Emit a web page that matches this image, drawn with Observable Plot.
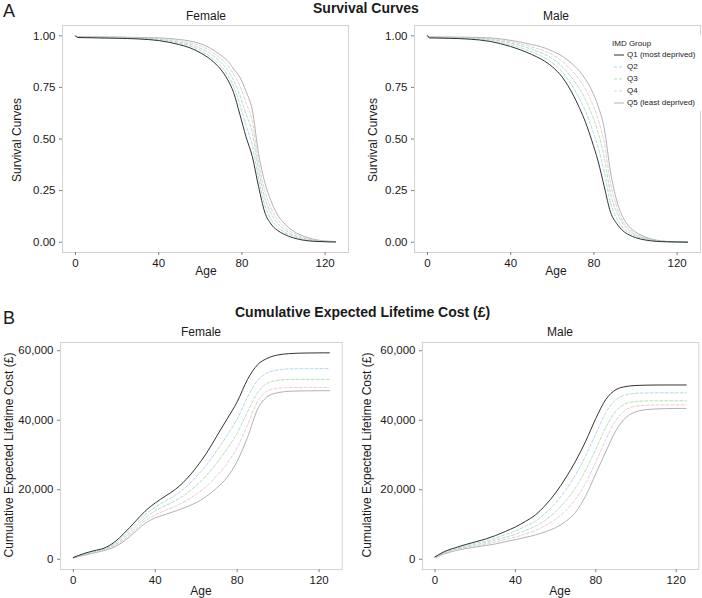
<!DOCTYPE html>
<html><head><meta charset="utf-8">
<script src="https://cdn.jsdelivr.net/npm/d3@7"></script>
<script src="https://cdn.jsdelivr.net/npm/@observablehq/plot@0.6"></script>
<style>
body{margin:0;background:#fff;}
#fig{position:relative;width:702px;height:598px;overflow:hidden;font-family:"Liberation Sans",Arial,sans-serif;color:#1a1a1a;background:#fff;}
.t{position:absolute;white-space:nowrap;line-height:1;}
.c{transform:translate(-50%,-50%);}
.rot{transform:translate(-50%,-50%) rotate(-90deg);}
</style></head><body><div id="fig"></div>
<script>
// ---- series labels & styles ----
const groups = ["Q1 (most deprived)", "Q2", "Q3", "Q4", "Q5 (least deprived)"];
const colors = ["#1c1c1c", "#9ccde0", "#9fd69f", "#e6bccb", "#a9a9a9"];
const dashes = [undefined, "3,2", "3,2", "3,2", undefined];
const widths = [0.9, 0.8, 0.8, 0.8, 0.9];
const xTicks = [0, 40, 80, 120];
const survTicks = [0, 0.25, 0.5, 0.75, 1];
const costTicks = [0, 20000, 40000, 60000];

// ---- survival curves (age grid) ----
const survAges = [0, 1, 10, 20, 30, 40, 50, 55, 60, 65, 70, 73, 76, 79, 82, 85, 88, 91, 94, 97, 100, 105, 110, 115, 120, 125];
const survFemaleQ1 = [1, 0.992, 0.99, 0.988, 0.985, 0.977, 0.957, 0.942, 0.918, 0.885, 0.835, 0.79, 0.725, 0.62, 0.51, 0.415, 0.27, 0.145, 0.088, 0.058, 0.04, 0.02, 0.009, 0.004, 0.002, 0.001];
const survFemaleQ2 = [1, 0.993, 0.991, 0.99, 0.987, 0.98, 0.963, 0.951, 0.929, 0.898, 0.853, 0.812, 0.755, 0.668, 0.565, 0.47, 0.31, 0.18, 0.11, 0.074, 0.052, 0.027, 0.013, 0.006, 0.003, 0.001];
const survFemaleQ3 = [1, 0.994, 0.993, 0.992, 0.989, 0.984, 0.969, 0.959, 0.94, 0.913, 0.87, 0.835, 0.785, 0.712, 0.62, 0.53, 0.35, 0.215, 0.14, 0.093, 0.065, 0.035, 0.018, 0.008, 0.004, 0.002];
const survFemaleQ4 = [1, 0.995, 0.994, 0.993, 0.99, 0.987, 0.976, 0.967, 0.951, 0.926, 0.888, 0.858, 0.813, 0.757, 0.675, 0.585, 0.385, 0.25, 0.165, 0.112, 0.078, 0.043, 0.022, 0.01, 0.005, 0.002];
const survFemaleQ5 = [1, 0.996, 0.995, 0.994, 0.992, 0.99, 0.982, 0.975, 0.962, 0.939, 0.905, 0.88, 0.84, 0.8, 0.73, 0.64, 0.43, 0.29, 0.2, 0.135, 0.095, 0.052, 0.028, 0.013, 0.006, 0.003];
const survMaleQ1 = [1, 0.99, 0.988, 0.984, 0.973, 0.948, 0.91, 0.885, 0.85, 0.797, 0.714, 0.652, 0.58, 0.492, 0.393, 0.268, 0.145, 0.09, 0.055, 0.035, 0.022, 0.01, 0.004, 0.002, 0.001, 0];
const survMaleQ2 = [1, 0.992, 0.99, 0.987, 0.978, 0.956, 0.923, 0.9, 0.87, 0.822, 0.75, 0.697, 0.633, 0.553, 0.46, 0.34, 0.19, 0.115, 0.07, 0.045, 0.029, 0.014, 0.006, 0.002, 0.001, 0];
const survMaleQ3 = [1, 0.993, 0.991, 0.989, 0.983, 0.965, 0.935, 0.916, 0.89, 0.848, 0.788, 0.745, 0.69, 0.62, 0.53, 0.41, 0.235, 0.145, 0.088, 0.055, 0.036, 0.018, 0.007, 0.003, 0.001, 0];
const survMaleQ4 = [1, 0.994, 0.993, 0.991, 0.987, 0.972, 0.946, 0.931, 0.908, 0.874, 0.824, 0.788, 0.74, 0.678, 0.595, 0.48, 0.285, 0.17, 0.1, 0.064, 0.042, 0.02, 0.008, 0.003, 0.001, 0];
const survMaleQ5 = [1, 0.995, 0.994, 0.993, 0.99, 0.978, 0.958, 0.946, 0.926, 0.9, 0.86, 0.83, 0.788, 0.735, 0.66, 0.55, 0.34, 0.2, 0.12, 0.075, 0.05, 0.024, 0.01, 0.004, 0.002, 0.001];

// ---- cumulative expected lifetime cost (£) ----
const costAges = [0, 5, 10, 15, 20, 25, 30, 35, 40, 45, 50, 55, 60, 65, 70, 75, 80, 85, 90, 95, 100, 105, 110, 115, 120, 125];
const costFemaleQ1 = [500, 1600, 2450, 3200, 4900, 7600, 10700, 13800, 16200, 18200, 20200, 22900, 26400, 30500, 35400, 40300, 45300, 51700, 56000, 57900, 58800, 59150, 59300, 59350, 59380, 59400];
const costFemaleQ2 = [480, 1450, 2250, 3000, 4500, 6900, 9900, 12800, 15000, 16800, 18500, 20800, 23700, 27100, 31200, 35600, 40400, 46600, 51500, 53700, 54500, 54750, 54820, 54840, 54850, 54850];
const costFemaleQ3 = [460, 1300, 2100, 2800, 4100, 6300, 9100, 11900, 13900, 15400, 16900, 18800, 21200, 24100, 27700, 31700, 36300, 42300, 48000, 50700, 51500, 51700, 51750, 51760, 51760, 51760];
const costFemaleQ4 = [430, 1200, 1950, 2650, 3800, 5800, 8400, 11000, 12800, 14100, 15300, 16800, 18700, 21000, 24000, 27500, 32200, 38600, 45500, 48500, 49250, 49400, 49440, 49450, 49450, 49450];
const costFemaleQ5 = [400, 1100, 1800, 2500, 3500, 5300, 7800, 10300, 11900, 12900, 13900, 15000, 16300, 18100, 20500, 23500, 28200, 35000, 43200, 46900, 47950, 48300, 48420, 48470, 48500, 48500];
const costMaleQ1 = [700, 2300, 3300, 4200, 5000, 5800, 6800, 8000, 9300, 10900, 12800, 15600, 19100, 23400, 28300, 34000, 40500, 46000, 48800, 49700, 50000, 50100, 50130, 50150, 50150, 50150];
const costMaleQ2 = [620, 2100, 3050, 3850, 4550, 5250, 6100, 7100, 8200, 9500, 11000, 13300, 16200, 19900, 24400, 29800, 36100, 42200, 45900, 47300, 47750, 47850, 47900, 47900, 47900, 47900];
const costMaleQ3 = [560, 1900, 2800, 3550, 4150, 4800, 5500, 6350, 7200, 8300, 9500, 11300, 13700, 16800, 20700, 25700, 31700, 38000, 42600, 44800, 45400, 45550, 45600, 45600, 45600, 45600];
const costMaleQ4 = [500, 1750, 2600, 3300, 3800, 4350, 4950, 5700, 6400, 7300, 8300, 9700, 11500, 14000, 17300, 22000, 28000, 34500, 40000, 43000, 44050, 44300, 44380, 44400, 44400, 44400];
const costMaleQ5 = [450, 1600, 2450, 3050, 3500, 3950, 4400, 5050, 5650, 6300, 7000, 7950, 9100, 10900, 13600, 18300, 24600, 31000, 37000, 40800, 42450, 43050, 43250, 43350, 43390, 43400];

// ---- build ----
const fig = document.getElementById("fig");
const FONT = "'Liberation Sans', Arial, sans-serif";

function rows(ages, series) {
  return series.flatMap((vals, i) => ages.map((a, j) => ({age: a, value: vals[j], group: groups[i]})));
}

function text(str, x, y, size, opts = {}) {
  const d = document.createElement("div");
  d.className = "t " + (opts.rot ? "rot" : (opts.left ? "" : "c"));
  d.textContent = str;
  d.style.left = x + "px";
  d.style.top = y + "px";
  d.style.fontSize = size + "px";
  if (opts.bold) d.style.fontWeight = "bold";
  if (opts.left) d.style.transform = "translate(0,-50%)";
  fig.appendChild(d);
  return d;
}

function panel(data, box, ydom, yticks, yfmt) {
  const ml = 60, mt = 25, mr = 2, mb = 30;
  const svg = Plot.plot({
    width: (box.R - box.L) + ml + mr,
    height: (box.B - box.T) + mt + mb,
    marginLeft: ml, marginRight: mr, marginTop: mt, marginBottom: mb,
    style: {fontFamily: FONT, fontSize: "11.5px", color: "#1a1a1a", background: "transparent", overflow: "visible"},
    x: {domain: [-6.25, 131.25]},
    y: {domain: ydom},
    color: {domain: groups, range: colors},
    marks: [
      Plot.frame({stroke: "#d2d2d2"}),
      Plot.axisX(xTicks, {tickSize: 3, tickPadding: 3, stroke: "#808080", fill: "#1a1a1a", label: null}),
      Plot.axisY(yticks, {tickSize: 3, tickPadding: 4, stroke: "#808080", fill: "#1a1a1a", label: null, tickFormat: yfmt}),
      ...groups.map((g, i) => i).reverse().map(i =>
        Plot.line(data.filter(d => d.group === groups[i]), {
          x: "age", y: "value", stroke: "group",
          strokeWidth: widths[i], strokeDasharray: dashes[i], curve: "monotone-x"
        }))
    ]
  });
  svg.style.position = "absolute";
  svg.style.left = (box.L - ml) + "px";
  svg.style.top = (box.T - mt) + "px";
  fig.appendChild(svg);
}

const survFmt = d3.format(".2f");
const costFmt = d3.format(",");
const survDom = [-0.05, 1.05];
const costDom = [-2970, 62370];

panel(rows(survAges, [survFemaleQ1, survFemaleQ2, survFemaleQ3, survFemaleQ4, survFemaleQ5]),
  {L: 62, T: 25, R: 348, B: 252}, survDom, survTicks, survFmt);
panel(rows(survAges, [survMaleQ1, survMaleQ2, survMaleQ3, survMaleQ4, survMaleQ5]),
  {L: 413.6, T: 25, R: 699.6, B: 252}, survDom, survTicks, survFmt);
panel(rows(costAges, [costFemaleQ1, costFemaleQ2, costFemaleQ3, costFemaleQ4, costFemaleQ5]),
  {L: 60, T: 341.5, R: 341.7, B: 568.6}, costDom, costTicks, costFmt);
panel(rows(costAges, [costMaleQ1, costMaleQ2, costMaleQ3, costMaleQ4, costMaleQ5]),
  {L: 421.7, T: 341.5, R: 698, B: 568.6}, costDom, costTicks, costFmt);

// ---- titles & axis titles ----
text("A", 3, 11, 18, {left: true});
text("Survival Curves", 313, 8, 14, {bold: true, left: true});
text("Female", 206, 16, 12);
text("Male", 556, 16, 12);
text("Survival Curves", 17, 140, 12, {rot: true});
text("Survival Curves", 373, 140, 12, {rot: true});
text("Age", 206, 271, 12);
text("Age", 556, 271, 12);

text("B", 3, 318, 18, {left: true});
text("Cumulative Expected Lifetime Cost (£)", 235, 312, 14, {bold: true, left: true});
text("Female", 201, 332, 12);
text("Male", 560, 332, 12);
text("Cumulative Expected Lifetime Cost (£)", 9, 455, 12, {rot: true});
text("Cumulative Expected Lifetime Cost (£)", 367, 455, 12, {rot: true});
text("Age", 201, 591, 12);
text("Age", 560, 591, 12);

// ---- legend (inside the male survival panel, white background) ----
const leg = document.createElement("div");
leg.style.cssText = "position:absolute;left:606px;top:35px;width:96px;height:76px;background:#fff;";
fig.appendChild(leg);
text("IMD Group", 612, 44, 8, {left: true});
const legY = [55, 67, 79, 91, 103];
groups.forEach((g, i) => {
  const s = document.createElementNS("http://www.w3.org/2000/svg", "svg");
  s.setAttribute("width", 12); s.setAttribute("height", 4);
  s.style.cssText = `position:absolute;left:613px;top:${legY[i] - 2}px;`;
  const l = document.createElementNS("http://www.w3.org/2000/svg", "line");
  l.setAttribute("x1", 1); l.setAttribute("x2", 11); l.setAttribute("y1", 2); l.setAttribute("y2", 2);
  l.setAttribute("stroke", colors[i]); l.setAttribute("stroke-width", widths[i]);
  if (dashes[i]) l.setAttribute("stroke-dasharray", dashes[i]);
  s.appendChild(l);
  fig.appendChild(s);
  text(g, 627, legY[i], 8, {left: true});
});
</script></body></html>
